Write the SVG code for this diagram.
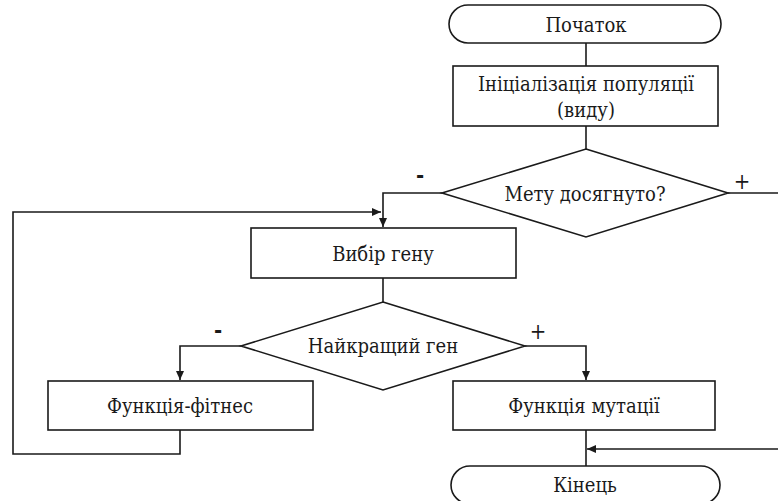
<svg xmlns="http://www.w3.org/2000/svg" width="778" height="501" viewBox="0 0 778 501">
<defs>
<marker id="ah" markerWidth="10" markerHeight="8" refX="9" refY="4" orient="auto" markerUnits="userSpaceOnUse">
<path d="M0,0 L9,4 L0,8 Z" fill="#1a1a1a"/>
</marker>
<style>
.s{fill:#fff;stroke:#1a1a1a;stroke-width:1.6}
.c{fill:none;stroke:#1a1a1a;stroke-width:1.6}
text{font-family:"DejaVu Serif Condensed","DejaVu Serif",serif;font-stretch:condensed;fill:#1a1a1a;text-anchor:middle;font-size:20px}
.sg{font-size:22px;font-family:"DejaVu Serif",serif}
</style>
</defs>
<rect width="778" height="501" fill="#fff"/>
<g id="connectors">
<path class="c" d="M586,43 V66"/>
<path class="c" d="M586,126 V149"/>
<path class="c" d="M442,193 H383 V227" marker-end="url(#ah)"/>
<path class="c" d="M728,193 H778"/>
<path class="c" d="M383,278 V302"/>
<path class="c" d="M241,346 H180 V380" marker-end="url(#ah)"/>
<path class="c" d="M525,346 H586 V380" marker-end="url(#ah)"/>
<path class="c" d="M180,430 V454 H13 V212 H381" marker-end="url(#ah)"/>
<path class="c" d="M586,430 V466"/>
<path class="c" d="M778,449 H587" marker-end="url(#ah)"/>
<text class="sg" x="420" y="183" font-weight="bold">-</text>
<text class="sg" x="742" y="189">+</text>
<text class="sg" x="218" y="338" font-weight="bold">-</text>
<text class="sg" x="538" y="339">+</text>
</g>
<g id="start">
<rect class="s" x="449" y="5" width="272" height="38" rx="19" ry="19"/>
<text x="586" y="32">Початок</text>
</g>
<g id="init">
<rect class="s" x="453" y="66" width="265" height="60"/>
<text x="586" y="91">Ініціалізація популяції</text>
<text x="586" y="117">(виду)</text>
</g>
<g id="goal">
<polygon class="s" points="586,149 728,193 586,237 442,193"/>
<text x="585" y="201">Мету досягнуто?</text>
</g>
<g id="select">
<rect class="s" x="251" y="228" width="265" height="50"/>
<text x="383" y="261">Вибір гену</text>
</g>
<g id="best">
<polygon class="s" points="383,302 525,346 383,390 241,346"/>
<text x="383" y="353">Найкращий ген</text>
</g>
<g id="fitness">
<rect class="s" x="48" y="381" width="265" height="49"/>
<text x="180" y="413">Функція-фітнес</text>
</g>
<g id="mutation">
<rect class="s" x="453" y="381" width="262" height="49"/>
<text x="584" y="413">Функція мутації</text>
</g>
<g id="end">
<rect class="s" x="451" y="466" width="269" height="38" rx="19" ry="19"/>
<text x="585" y="492">Кінець</text>
</g>
</svg>
